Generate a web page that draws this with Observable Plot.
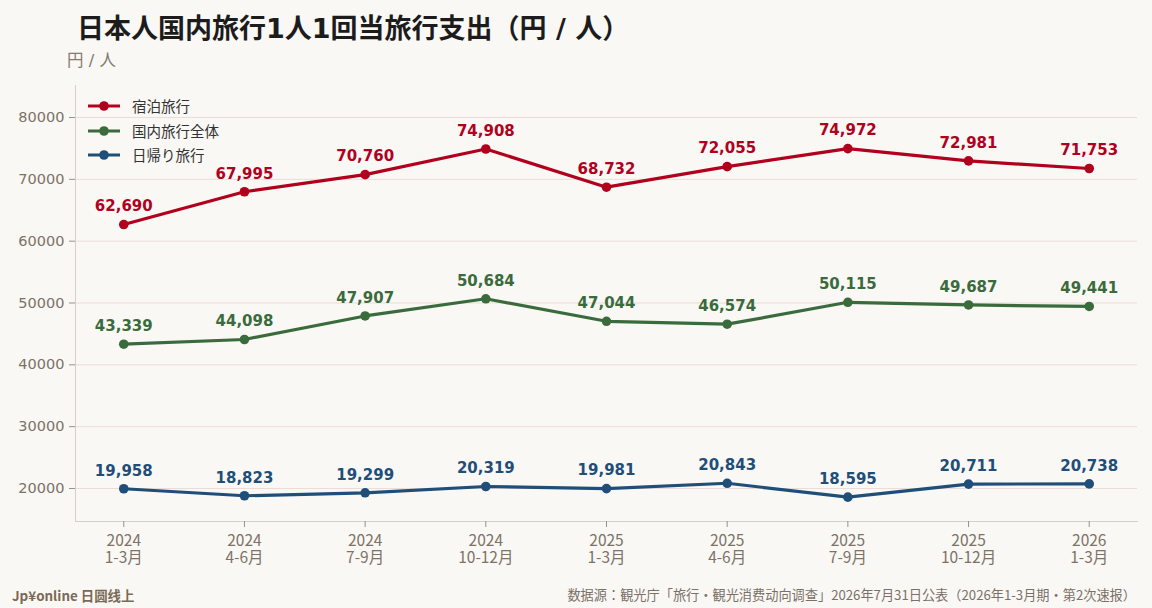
<!DOCTYPE html>
<html><head><meta charset="utf-8">
<script src="https://cdn.jsdelivr.net/npm/d3@7"></script>
<script src="https://cdn.jsdelivr.net/npm/@observablehq/plot@0.6"></script>
<style>
html,body{margin:0;padding:0;background:#faf8f5;}
body{width:1152px;height:608px;overflow:hidden;position:relative;font-family:"Noto Sans CJK JP","Noto Sans",sans-serif;}
#title{position:absolute;left:77px;top:7px;font-family:"DejaVu Sans","Noto Sans CJK JP",sans-serif;font-size:27px;font-weight:700;color:#1c1c1c;white-space:nowrap}
#sub{position:absolute;left:67px;top:47px;font-family:"DejaVu Sans","Noto Sans CJK JP",sans-serif;font-size:16.5px;color:#857a6e;white-space:nowrap}
#chart{position:absolute;left:0;top:0}
#legend{position:absolute;left:86px;top:94px;font-size:14.5px;color:#333}
.row{display:flex;align-items:center;height:24.5px;line-height:24.5px}
.row svg{margin-right:10px}
#fl{position:absolute;left:12px;top:585px;font-size:13.4px;font-weight:700;color:#7a6a55;white-space:nowrap}
#fr{position:absolute;right:16px;top:585px;font-size:13.2px;color:#7a7068;white-space:nowrap}
</style></head>
<body>
<div id="chart"></div>
<div id="title">日本人国内旅行1人1回当旅行支出（円 / 人）</div>
<div id="sub">円 / 人</div>
<div id="legend"></div>
<div id="fl">Jp¥online 日圆线上</div>
<div id="fr">数据源：観光庁「旅行・観光消费动向调查」2026年7月31日公表（2026年1-3月期・第2次速报）</div>
<script>
const quarters = ["2024\n1-3月","2024\n4-6月","2024\n7-9月","2024\n10-12月","2025\n1-3月","2025\n4-6月","2025\n7-9月","2025\n10-12月","2026\n1-3月"];
const seriesNames = ["宿泊旅行","国内旅行全体","日帰り旅行"];
const seriesColors = ["#b0001e","#3a6b3c","#1f4e79"];
const overnight = [62690,67995,70760,74908,68732,72055,74972,72981,71753];
const overall = [43339,44098,47907,50684,47044,46574,50115,49687,49441];
const dayTrip = [19958,18823,19299,20319,19981,20843,18595,20711,20738];
const yTicks = [20000,30000,40000,50000,60000,70000,80000];

const values = [overnight, overall, dayTrip];
const data = [];
seriesNames.forEach((s,i)=>values[i].forEach((v,j)=>data.push({series:s,q:quarters[j],value:v})));

const fmt = d3.format(",");
const chart = Plot.plot({
  width:1152, height:578,
  marginTop:85, marginRight:15, marginBottom:57, marginLeft:75,
  style:{background:"transparent", fontFamily:"DejaVu Sans, sans-serif"},
  x:{type:"point", domain:quarters, padding:0.4, round:false, label:null},
  y:{domain:[14660,85180], label:null},
  color:{domain:seriesNames, range:seriesColors},
  marks:[
    Plot.gridY(yTicks,{stroke:"#ecdcd8", strokeOpacity:1}),
    Plot.frame({anchor:"left", stroke:"#d6cfc7"}),
    Plot.frame({anchor:"bottom", stroke:"#d6cfc7"}),
    Plot.axisY(yTicks,{tickSize:6, tickPadding:5, fontSize:14.5, fill:"#7d7266", stroke:"#9a9088", label:null, tickFormat:d=>String(d)}),
    Plot.axisX({tickSize:6, tickPadding:6, fontSize:15.5, fill:"#7d7266", stroke:"#9a9088", fontFamily:"Noto Sans CJK JP", label:null, lineHeight:1.12}),
    Plot.line(data,{x:"q", y:"value", z:"series", stroke:"series", strokeWidth:3.2}),
    Plot.dot(data,{x:"q", y:"value", fill:"series", r:4.8}),
    Plot.text(data,{x:"q", y:"value", text:d=>fmt(d.value), fill:"series", dy:-18, fontSize:15, fontWeight:"bold", fontFamily:"DejaVu Sans"})
  ]
});
document.getElementById("chart").appendChild(chart);

const leg = document.getElementById("legend");
seriesNames.forEach((s,i)=>{
  const row = document.createElement("div");
  row.className="row";
  row.innerHTML = `<svg width="36" height="12"><line x1="2" x2="34" y1="6" y2="6" stroke="${seriesColors[i]}" stroke-width="3"/><circle cx="18" cy="6" r="4.8" fill="${seriesColors[i]}"/></svg><span>${s}</span>`;
  leg.appendChild(row);
});
</script>
</body></html>
